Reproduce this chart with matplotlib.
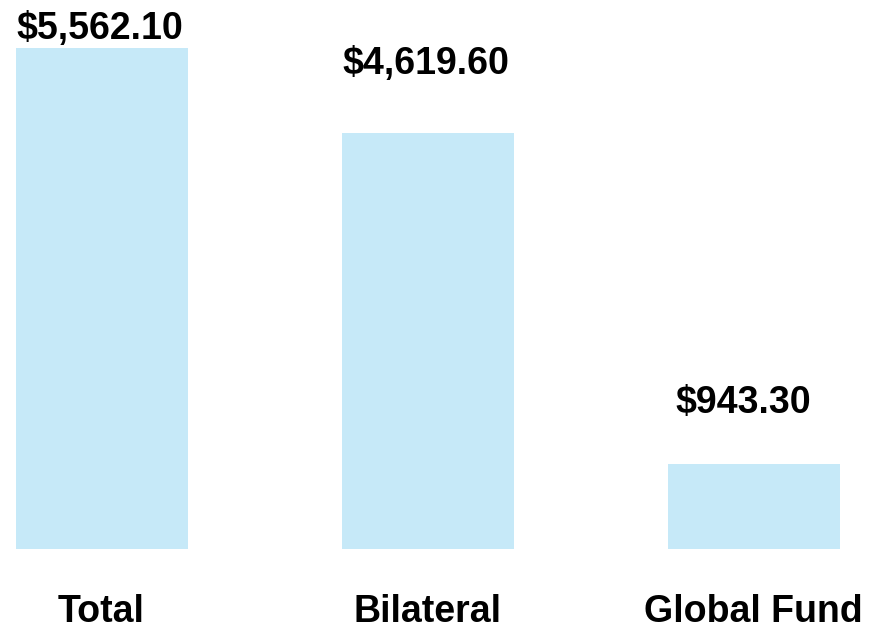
import numpy as np
import matplotlib
matplotlib.use("Agg")
import matplotlib.pyplot as plt

# data
categories = ["Total", "Bilateral", "Global Fund"]
values = [5562.10, 4619.60, 943.30]
value_labels = ["$5,562.10", "$4,619.60", "$943.30"]

# label offsets from the top of each bar, in pixels (dx, dy)
label_offsets_px = [(-2, 9), (-2.5, 59), (-10.5, 51)]

BAR_COLOR = "#C6E9F8"
FONT = "Liberation Sans"
PX2PT = 72 / 100.0

fig = plt.figure(figsize=(8.71, 6.26), dpi=100)
# axes bottom sits at the bar baseline (y pixel 549 of 626)
ax = fig.add_axes([0, 77.3 / 626, 1, 548.7 / 626])

x = np.arange(len(categories))
ax.bar(x, values, width=172 / 326, color=BAR_COLOR)

ax.set_xlim(-102 / 326, 769 / 326)
ax.set_ylim(0, values[0] * 548.7 / 500.7)
ax.axis("off")

# value labels above the bars
for i, (v, lab) in enumerate(zip(values, value_labels)):
    dx, dy = label_offsets_px[i]
    ax.annotate(lab, xy=(x[i], v), xytext=(dx * PX2PT, dy * PX2PT),
                textcoords="offset points", ha="center", va="baseline",
                fontsize=27, fontweight="bold", family=FONT, color="black")

# category labels under the bars
for i, cat in enumerate(categories):
    ax.annotate(cat, xy=(x[i], 0), xycoords=("data", "axes fraction"),
                xytext=(-1 * PX2PT, -73 * PX2PT), textcoords="offset points",
                ha="center", va="baseline", fontsize=27, fontweight="bold",
                family=FONT, color="black", annotation_clip=False)

fig.savefig("out.png", dpi=100)
